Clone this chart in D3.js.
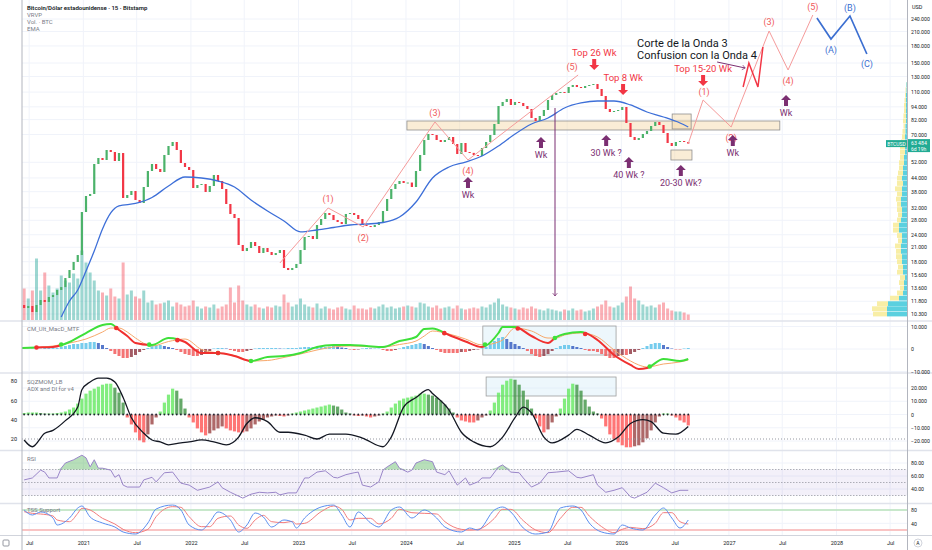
<!DOCTYPE html>
<html>
<head>
<meta charset='utf-8'>
<title>BTCUSD - Ondas</title>
<script src='https://d3js.org/d3.v7.min.js'></script>
<style>
  body { margin: 0; background: #ffffff; }
  svg { display: block; font-family: Roboto, 'Liberation Sans', sans-serif; }
</style>
</head>
<body>
<svg id='chart' width='932' height='550'></svg>
<script>

// ---- data: 2-week candles ----
var firstOpen = 11000;
var closes = [11340,10980,11220,10520,11340,11960,11710,12350,12610,13310,
  13730,15120,16470,17950,19330,30590,36290,37080,51060,54440,
  53290,59290,58040,52720,57420,35530,36680,38280,34780,33680,
  39950,47390,51060,48410,46880,56210,61880,64580,59290,51610,
  49450,47900,39520,40810,41250,37880,40380,45400,42590,39110,
  33320,29950,28690,21510,20170,20830,22210,21280,19750,20830,
  19960,19330,19750,20390,16830,16470,16830,17570,20390,23430,
  23680,22930,26630,28390,30270,29630,28090,27490,26910,29950,
  30270,29630,28390,26630,26340,26060,26630,27490,30920,35150,
  39110,41250,42590,41690,41900,39950,47390,56210,65970,70330,
  69580,65970,64580,65970,68110,63210,56810,63890,58040,57500,
  56210,55610,60570,64580,69580,78260,94840,98980,102200,95860,
  98980,97930,94840,91850,83430,80810,85230,90870,101100,106640,
  108940,110110,108940,116140,118650,116140,114910,117390,118650,119920,
  113700,105510,91850,88950,89910,90870,93830,79100,68110,65970,
  67390,70330,72620,76600,79950,77430,71090,63890,61880,64580,
  65270,64580,63484];

// volume, thousand BTC
var volumes = [28,32,22,30,62,30,48,35,28,32, 45,40,38,47,42,70,58,48,40,30,
  28,25,32,24,22,58,26,30,24,22, 30,18,20,16,17,18,20,14,18,16,
  14,15,20,14,12,14,13,16,12,14, 16,33,18,35,20,16,14,16,13,12,
  14,13,15,14,26,18,14,16,22,16, 14,13,17,12,14,12,11,13,14,12,
  11,15,12,12,11,13,12,14,16,13, 14,12,13,14,15,14,13,18,17,14,
  13,15,12,13,14,12,15,12,11,12, 13,12,14,13,16,18,22,16,14,13,
  12,11,13,12,14,12,11,10,12,11, 10,9,11,10,12,10,11,9,10,12,
  14,16,20,14,13,15,18,24,34,22, 20,16,14,15,13,16,18,12,10,9,
  9,8,6];

var emaIdx = [10,12,14,16,18,20,22,24,28,32,36,40,44,48,52,56,60,64,68,72,76,80,84,88,92,96,100,104,108,112,116,120,124,128,132,136,140,144,148,152,156,160,162];
var emaVal = [9970,11830,13310,16300,20170,25520,30270,32620,33510,35720,40380,44450,43970,42590,39950,34780,30920,27790,24720,25250,25930,26630,26910,27350,29000,34040,43970,49450,52160,55610,61880,70330,78260,83430,92830,97930,100040,100040,95860,88950,84330,79100,75790];

var macdHist = [220,220,220,220,220,220,440,440,440,440,
  890,1330,1780,2220,2220,2660,2660,3110,3110,2660,
  1780,440,-890,-2220,-3110,-4000,-4000,-3550,-2660,-1330,
  -440,440,1330,1780,1780,1330,890,440,-440,-1330,
  -2220,-2660,-3110,-3110,-2660,-1780,-890,220,440,440,
  220,-440,-890,-1330,-1330,-890,-440,220,440,440,
  440,440,440,220,220,440,440,440,670,890,
  890,890,890,890,890,1110,1330,1110,670,440,
  -220,-440,-220,220,440,220,220,220,-440,-890,
  -890,-440,220,890,1330,1780,2220,2660,2220,1330,
  440,-440,-1330,-1780,-1780,-1780,-1780,-1330,-1330,-890,
  -440,-220,220,890,2220,3550,4880,5330,4440,3110,
  2220,1330,440,-890,-2220,-3110,-3550,-3110,-2220,-890,
  440,1330,1780,1780,1330,890,440,-440,-890,-890,
  -1330,-2220,-3110,-4000,-4000,-3110,-2660,-2660,-2220,-1330,
  -440,440,1330,2220,2660,2660,1780,890,220,-220,
  -220,220,440];
var macdIdx = [0,4,8,12,16,20,22,24,26,28,32,36,40,44,48,52,56,60,64,68,72,76,80,84,88,92,96,98,100,104,108,112,116,117,120,124,128,130,132,136,140,144,148,150,152,156,160,162];
var macdVal = [440,670,890,3110,7100,10660,11100,8440,5770,2660,1780,4880,3110,-1780,-1780,-3110,-5330,-3550,-3110,-1780,890,1780,1780,1330,890,3550,5330,8880,9100,6220,3330,890,7100,9770,9770,5770,2660,5330,6660,7550,4000,-2660,-7100,-8880,-8440,-4440,-5330,-4440];
var signalVal = [440,670,1330,2660,4440,7550,9320,9320,7550,4880,1330,3330,4440,-220,-1780,-2880,-5330,-5110,-3770,-2220,-440,890,1330,1110,890,2000,3550,5770,7990,6660,4440,1780,3110,4000,9320,7990,4880,4880,6220,7100,5330,-440,-5330,-7100,-8000,-6660,-5770,-4880];

var sqzMom = [750,1130,1500,1500,1500,1130,750,750,750,1130,
  1500,2250,3750,5250,8250,12000,15750,18000,19500,21000,
  22500,23250,23250,20250,16500,9000,-2250,-7500,-13500,-19500,
  -21000,-15000,-7500,-2250,2250,9000,15000,19500,18000,12000,
  4500,-2250,-6000,-10500,-13500,-15750,-14250,-12000,-10500,-9000,
  -10500,-12000,-12750,-13500,-13500,-12750,-10500,-7500,-5250,-3750,
  -2250,-1500,-750,-1130,-1500,-750,750,1500,2250,3000,
  3750,4500,5250,6000,6750,7500,6750,6000,3750,1500,
  750,-750,-1130,-750,-1500,-2250,-1500,-750,750,2250,
  5250,8250,10500,12000,12750,13500,14250,15750,15750,15000,
  14250,12750,10500,7500,4500,1500,-2250,-4500,-5250,-6000,
  -6000,-4500,-2250,-750,3000,9000,16500,22500,25500,27000,
  26250,22500,18000,11250,4500,-3000,-9000,-13500,-11250,-6000,
  -1500,4500,12000,19500,23250,22500,18000,11250,6000,2250,
  750,-3000,-9000,-15000,-18750,-21000,-23250,-24750,-24750,-24000,
  -23250,-21000,-18000,-12000,-6000,-1500,750,750,-750,-2250,
  -4500,-6000,-8250];

var adxIdx = [1,3,6,8,11,14,15,17,19,21,23,25,27,30,32,34,36,39,41,44,47,50,53,55,57,60,63,65,69,72,75,79,83,88,90,93,96,99,100,104,107,110,114,117,120,122,124,127,129,133,135,138,142,145,148,151,153,156,159,162];
var adxVal = [19,12,26,29,39,53,71,79,83,83,79,63,42,26,19,17,14,16,17,19,17,14,22,36,42,38,27,27,24,20,25,25,21,12,22,53,63,71,67,50,27,17,12,22,42,53,47,22,16,24,30,24,16,22,36,40,38,26,25,33];

var rsiIdx = [1,3,5,6,7,9,10,11,13,15,16,17,18,19,20,22,23,24,25,26,29,30,32,33,35,37,39,41,43,46,48,49,51,54,56,58,60,62,63,65,67,69,70,72,74,76,77,79,81,82,83,85,87,88,89,91,92,94,95,96,98,100,101,103,104,106,108,109,111,112,114,116,117,119,121,122,124,126,128,130,133,135,136,139,140,142,144,146,148,149,152,154,156,158,160,162];
var rsiVal = [54,57,69,66,57,57,72,80,85,92,88,74,85,72,72,69,58,62,46,43,43,54,58,51,65,66,49,46,38,43,51,42,35,26,32,35,34,35,31,34,34,57,57,66,68,58,57,62,65,66,46,43,51,69,74,82,72,66,69,80,85,82,66,62,68,46,57,46,51,57,57,74,77,66,65,57,43,49,65,66,68,58,57,62,46,35,38,42,28,26,35,49,42,34,38,38];

var stochIdx = [1,3,5,8,9,12,14,15,17,20,23,25,28,31,33,37,39,41,44,46,48,51,53,55,57,59,61,64,66,67,69,73,76,78,80,82,85,87,90,92,95,98,101,103,107,109,111,115,117,119,122,125,128,131,134,136,138,141,144,146,148,151,154,156,158,160,162];
var stochK = [80,65,74,56,35,56,86,92,59,41,29,14,8,41,83,95,80,35,20,44,74,50,14,35,71,59,29,50,44,26,56,89,95,65,29,74,41,29,80,89,56,80,56,29,14,26,20,80,89,74,26,8,14,86,92,80,41,14,8,35,26,20,65,86,56,26,50];
var stochD = [75,70,68,62,50,45,70,85,80,55,38,22,12,22,60,90,88,60,30,30,55,62,35,25,50,64,45,42,46,38,40,75,92,82,50,55,55,38,55,82,72,70,68,45,22,20,22,55,82,82,48,20,12,55,88,88,62,30,12,22,28,24,40,72,72,45,38];

// volume profile rows (price, up volume, down volume)
var profilePrice = [10300,10900,11500,12200,12900,13600,14400,15200,16100,17000,18000,19000,20100,21300,22500,23800,25200,26600,28100,29700,31400,33200,35100,37100,39200,41500,43900,46400,49000,51800,54800,57900,61200,64700,68400,72300,76400,80800,85400,90300,95400,100900,106600,112700,119100];
var profileUp = [20,20,19,8,4,3,3,2,4,4,5,5,6,6,5,5,8,8,6,5,5,6,6,5,5,4,5,4,4,3,3,2,2,2,2,1.5,1.5,1,1,1,1,1,1,0.5,0.5];
var profileDown = [14,15,11,9,6,4,5,5,6,5,5,6,5,6,4,5,6,6,4,4,5,4,5,5,7,6,5,5,4,5,4,5,5,4,3,3,2,3,2.5,2,2,1.5,1,1,0.5];

// axis ticks
var priceTicks = [240000,210000,180000,150000,130000,110000,94000,82000,70000,52000,44000,38000,32000,28000,24000,21000,18000,15600,13600,11800,10300];
var macdTicks = [10000,0,-10000];
var sqzTicks = [20000,10000,0,-10000,-20000];
var adxTicks = [80,60,40,20];
var rsiTicks = [80,60,40];
var stochTicks = [80,40];
var lastPrice = 63484, countdown = '6d 19h';

// drawings (candle index, price)
var waveIdx = [63,74.7,83.2,100.6,108.6,135.3];
var wavePrice = [17750,31930,26070,79950,53290,132060];
var projIdx = [162,165.6,172.4,181.6,186.2,192.2];
var projPrice = [63484,101110,75790,211140,139300,250460];
var abcIdx = [193.2,196.6,201.2,205.3];
var abcPrice = [242580,193900,247800,165140];
var zigIdx = [175.3,176.7,178.9,180.1];
var zigPrice = [116140,150050,116140,178020];
var waveNames = ['', '(1)', '(2)', '(3)', '(4)', '(5)'];
var abcNames = ['', '(A)', '(B)', '(C)'];
var zones = [[93.8,184.2,73400,80810],[158.1,162.7,74190,87070],[157.8,162.9,53290,59290]];
var upMarks = [[108.6,44450,'Wk'],[126.3,68110,'Wk'],[142.1,69590,'30 Wk ?'],[147.6,55020,'40 Wk ?'],[160.2,50520,'20-30 Wk?'],[172.8,69590,'Wk'],[185.7,106640,'Wk']];
var topMarks = [[139.2,139300,'Top 26 Wk'],[146.2,106640,'Top 8 Wk'],[165.6,117390,'Top 15-20 Wk']];
var noteIdx = 149.6, notePrice = [178020,156600];
var noteLines = ['Corte de la Onda 3', 'Confusion con la Onda 4'];
var noteArrow = [[169.0,151660],[175.8,142250]];
var dropArrow = [[129.7,92830],[129.7,12480]];
var macdBox = [112.2,144.5,10220,-2670];
var sqzBox = [113,144.5,28300,13960];

// ---- layout ----
var L = 22, R = 907;
var svg = d3.select('#chart');
var x = d3.scaleLinear().domain([0, 162]).range([20, 688.25]);
var t0 = new Date(2020, 4, 31);
var xt = d3.scaleTime().domain([t0, d3.timeDay.offset(t0, 162 * 14)]).range([20, 688.25]);
var yP = d3.scaleLog().domain([10300, 240000]).range([314, 19]);
var yV = d3.scaleLinear().domain([0, 100]).range([320.5, 220.5]);
var yM = d3.scaleLinear().domain([-10000, 10000]).range([371.5, 326.5]);
var yS = d3.scaleLinear().domain([-20000, 20000]).range([441, 388]);
var yA = d3.scaleLinear().domain([20, 80]).range([439, 381]);
var yR = d3.scaleLinear().domain([40, 80]).range([489, 463]);
var yK = d3.scaleLinear().domain([20, 80]).range([530, 510]);

var loc = d3.formatLocale({decimal: ',', thousands: '.', grouping: [3], currency: ['', ''], minus: '\u2212'});
var fK = loc.format(',');

var defs = svg.append('defs');
function clip(id, x0, y0, x1, y1) {
  defs.append('clipPath').attr('id', id).append('rect')
    .attr('x', x0).attr('y', y0).attr('width', x1 - x0).attr('height', y1 - y0);
}
clip('cMain', L, 0, R, 320);
clip('cMacd', L, 322, R, 372);
clip('cSqz', L, 374, R, 450);
clip('cRsi', L, 451, R, 503);
clip('cSto', L, 504, R, 535);

var purple = '#7b2f72', red = '#f23645';

// grid
var monthTicks = d3.timeMonth.every(6).range(xt.invert(L), xt.invert(R));
svg.append('g').selectAll('line').data(monthTicks).join('line')
  .attr('x1', d => xt(d)).attr('x2', d => xt(d)).attr('y1', 0).attr('y2', 535)
  .attr('stroke', '#f0f3fa');
function hgrid(scale, ticks, clipId) {
  svg.append('g').attr('clip-path', 'url(#' + clipId + ')').selectAll('line').data(ticks).join('line')
    .attr('x1', L).attr('x2', R).attr('y1', d => scale(d)).attr('y2', d => scale(d))
    .attr('stroke', '#f0f3fa');
}
hgrid(yP, priceTicks, 'cMain');
hgrid(yM, macdTicks, 'cMacd');
hgrid(yS, sqzTicks, 'cSqz');
hgrid(yR, rsiTicks, 'cRsi');
hgrid(yK, stochTicks, 'cSto');

// ---- main pane ----
var main = svg.append('g').attr('clip-path', 'url(#cMain)');
var opens = closes.map((c, i) => i ? closes[i - 1] : firstOpen);

main.append('g').selectAll('rect').data(volumes).join('rect')
  .attr('x', (d, i) => x(i) - 1.5).attr('width', 3)
  .attr('y', d => yV(d)).attr('height', d => yV(0) - yV(d))
  .attr('fill', (d, i) => closes[i] >= opens[i] ? 'rgba(38,166,154,0.45)' : 'rgba(242,54,69,0.4)');

// volume profile
var pw = d3.scaleLinear().domain([0, 40]).range([0, 40]);
var prof = main.append('g');
profilePrice.forEach(function (p, k) {
  var yc = yP(p);
  prof.append('rect').attr('x', R - pw(profileUp[k] + profileDown[k])).attr('y', yc - 2.4)
    .attr('width', pw(profileDown[k])).attr('height', 4.8).attr('fill', '#f8eea6');
  prof.append('rect').attr('x', R - pw(profileUp[k])).attr('y', yc - 2.4)
    .attr('width', pw(profileUp[k])).attr('height', 4.8).attr('fill', '#5bd0df');
});

// zones
main.append('g').selectAll('rect').data(zones).join('rect')
  .attr('x', d => x(d[0])).attr('width', d => x(d[1]) - x(d[0]))
  .attr('y', d => yP(d[3])).attr('height', d => yP(d[2]) - yP(d[3]))
  .attr('fill', 'rgba(245,215,165,0.45)').attr('stroke', '#8f8f8f').attr('stroke-width', 0.8);

// candles
main.append('g').selectAll('rect').data(closes).join('rect')
  .attr('x', (d, i) => x(i) - 1.1).attr('width', 2.2)
  .attr('y', (d, i) => yP(Math.max(d, opens[i])))
  .attr('height', (d, i) => Math.max(1, Math.abs(yP(opens[i]) - yP(d))))
  .attr('fill', (d, i) => d >= opens[i] ? '#4bb26a' : red);

// EMA
main.append('path').datum(emaIdx.map((i, k) => [i, emaVal[k]]))
  .attr('fill', 'none').attr('stroke', '#3d6fd8').attr('stroke-width', 1.3)
  .attr('d', d3.line().x(d => x(d[0])).y(d => yP(d[1])).curve(d3.curveMonotoneX));

// elliott drawings
var pl = d3.line().x(d => x(d[0])).y(d => yP(d[1]));
main.append('path').datum(waveIdx.map((i, k) => [i, wavePrice[k]]))
  .attr('fill', 'none').attr('stroke', '#f59b9b').attr('stroke-width', 1).attr('d', pl);
main.append('path').datum(projIdx.map((i, k) => [i, projPrice[k]]))
  .attr('fill', 'none').attr('stroke', '#f59b9b').attr('stroke-width', 1).attr('d', pl);
main.append('path').datum(zigIdx.map((i, k) => [i, zigPrice[k]]))
  .attr('fill', 'none').attr('stroke', red).attr('stroke-width', 1.5).attr('d', pl);
main.append('path').datum(abcIdx.map((i, k) => [i, abcPrice[k]]))
  .attr('fill', 'none').attr('stroke', '#3c6fd1').attr('stroke-width', 1.7).attr('d', pl);

var waveDx = [0, 0, 0, 0, 0, -6], waveDy = [0, -6, 14, -6, 14, -5];
var projDy = [0, -5, 14, -6, 14, -5], abcDy = [0, 14, -5, 13];
function labels(idx, price, names, dx, dy, color) {
  main.append('g').selectAll('text').data(names).join('text')
    .attr('x', (d, k) => x(idx[k]) + dx[k]).attr('y', (d, k) => yP(price[k]) + dy[k])
    .attr('text-anchor', 'middle').attr('font-size', 9).attr('fill', color).text(d => d);
}
labels(waveIdx, wavePrice, waveNames, waveDx, waveDy, '#f0595a');
labels(projIdx, projPrice, waveNames, [0, 1, 0, 0, 0, 0], projDy, '#f0595a');
labels(abcIdx, abcPrice, abcNames, [0, 0, 0, 0], abcDy, '#3c6fd1');

// note text + arrow
main.append('g').selectAll('text').data(noteLines).join('text')
  .attr('x', x(noteIdx)).attr('y', (d, k) => yP(notePrice[k]))
  .attr('font-size', 11).attr('fill', '#131722').text(d => d);
defs.append('marker').attr('id', 'ah').attr('viewBox', '-6 -6 12 12').attr('refX', 0).attr('refY', 0)
  .attr('markerWidth', 7).attr('markerHeight', 7).attr('orient', 'auto')
  .append('path').attr('d', 'M-5,-4 L0,0 L-5,4').attr('fill', 'none').attr('stroke', purple).attr('stroke-width', 1.2);
main.append('path').datum(noteArrow).attr('d', pl).attr('stroke', purple).attr('stroke-width', 1)
  .attr('marker-end', 'url(#ah)');
main.append('path').datum(dropArrow).attr('d', pl).attr('stroke', purple).attr('stroke-width', 1)
  .attr('marker-end', 'url(#ah)');

// arrows
var upGlyph = 'M0,0 L5,5 L2,5 L2,11 L-2,11 L-2,5 L-5,5 Z';
var downGlyph = 'M0,0 L5,-5 L2,-5 L2,-11 L-2,-11 L-2,-5 L-5,-5 Z';
var um = main.append('g').selectAll('g').data(upMarks).join('g')
  .attr('transform', d => 'translate(' + x(d[0]) + ',' + yP(d[1]) + ')');
um.append('path').attr('d', upGlyph).attr('fill', purple);
um.append('text').attr('y', 21).attr('text-anchor', 'middle').attr('font-size', 9).attr('fill', purple).text(d => d[2]);
var tm = main.append('g').selectAll('g').data(topMarks).join('g')
  .attr('transform', d => 'translate(' + x(d[0]) + ',' + yP(d[1]) + ')');
tm.append('path').attr('d', downGlyph).attr('fill', red);
tm.append('text').attr('y', -14).attr('text-anchor', 'middle').attr('font-size', 9.5).attr('fill', red).text(d => d[2]);

// ---- MACD pane ----
var macd = svg.append('g').attr('clip-path', 'url(#cMacd)');
macd.append('rect').attr('x', x(macdBox[0])).attr('width', x(macdBox[1]) - x(macdBox[0]))
  .attr('y', yM(macdBox[2])).attr('height', yM(macdBox[3]) - yM(macdBox[2]))
  .attr('fill', 'rgba(210,235,248,0.4)').attr('stroke', '#9e9e9e').attr('stroke-width', 0.8);
macd.append('g').selectAll('rect').data(macdHist).join('rect')
  .attr('x', (d, i) => x(i) - 1.5).attr('width', 3)
  .attr('y', d => Math.min(yM(d), yM(0))).attr('height', d => Math.abs(yM(d) - yM(0)))
  .attr('fill', function (d, i) {
    var p = i ? macdHist[i - 1] : d;
    if (d >= 0) return d >= p ? '#5ec3ea' : '#3a62c2';
    return d <= p ? '#f25c5c' : '#93404a';
  }).attr('opacity', 0.85);
var ml = d3.line().x(d => x(d[0])).y(d => yM(d[1])).curve(d3.curveMonotoneX);
macd.append('path').datum(macdIdx.map((i, k) => [i, signalVal[k]]))
  .attr('fill', 'none').attr('stroke', '#f7a86b').attr('stroke-width', 1).attr('d', ml);
// colour the MACD line by its position vs signal
var segs = [], crosses = [];
var cur = {x0: x(macdIdx[0]), up: macdVal[0] >= signalVal[0]};
for (var k = 1; k < macdIdx.length; k++) {
  var up = macdVal[k] >= signalVal[k];
  if (up !== cur.up) {
    var da = macdVal[k - 1] - signalVal[k - 1], db = macdVal[k] - signalVal[k];
    var f = da / (da - db);
    var ci = macdIdx[k - 1] + f * (macdIdx[k] - macdIdx[k - 1]);
    var cv = macdVal[k - 1] + f * (macdVal[k] - macdVal[k - 1]);
    cur.x1 = x(ci); segs.push(cur);
    crosses.push([ci, cv, up]);
    cur = {x0: x(ci), up: up};
  }
}
cur.x1 = x(macdIdx[macdIdx.length - 1]) + 2; segs.push(cur);
var macdPts = macdIdx.map((i, k) => [i, macdVal[k]]);
segs.forEach(function (s, n) {
  defs.append('clipPath').attr('id', 'ms' + n).append('rect')
    .attr('x', s.x0).attr('width', s.x1 - s.x0 + 0.3).attr('y', 322).attr('height', 50);
  macd.append('path').datum(macdPts).attr('clip-path', 'url(#ms' + n + ')')
    .attr('fill', 'none').attr('stroke', s.up ? '#3ee03a' : '#f0302f').attr('stroke-width', 2).attr('d', ml);
});
macd.append('g').selectAll('circle').data(crosses).join('circle')
  .attr('cx', d => x(d[0])).attr('cy', d => yM(d[1])).attr('r', 2.3)
  .attr('fill', d => d[2] ? '#3ee03a' : '#f0302f');

// ---- squeeze momentum + ADX ----
var sq = svg.append('g').attr('clip-path', 'url(#cSqz)');
sq.append('rect').attr('x', x(sqzBox[0])).attr('width', x(sqzBox[1]) - x(sqzBox[0]))
  .attr('y', yS(sqzBox[2])).attr('height', yS(sqzBox[3]) - yS(sqzBox[2]))
  .attr('fill', 'rgba(210,235,248,0.4)').attr('stroke', '#9e9e9e').attr('stroke-width', 0.8);
sq.append('g').selectAll('rect').data(sqzMom).join('rect')
  .attr('x', (d, i) => x(i) - 1.6).attr('width', 3.2)
  .attr('y', d => Math.min(yS(d), yS(0))).attr('height', d => Math.abs(yS(d) - yS(0)))
  .attr('fill', function (d, i) {
    var p = i ? sqzMom[i - 1] : d;
    if (d >= 0) return d >= p ? '#63e85f' : '#3f9443';
    return d <= p ? '#ff5252' : '#9a4242';
  }).attr('opacity', 0.8);
sq.append('line').attr('x1', L).attr('x2', R).attr('y1', yA(20)).attr('y2', yA(20))
  .attr('stroke', '#9598a1').attr('stroke-dasharray', '1,2');
sq.append('g').selectAll('circle').data(sqzMom).join('circle')
  .attr('cx', (d, i) => x(i)).attr('cy', yS(0)).attr('r', 0.9).attr('fill', '#1e222d');
sq.append('path').datum(adxIdx.map((i, k) => [i, adxVal[k]]))
  .attr('fill', 'none').attr('stroke', '#131722').attr('stroke-width', 1.3)
  .attr('d', d3.line().x(d => x(d[0])).y(d => yA(d[1])).curve(d3.curveMonotoneX));

// ---- RSI ----
var rs = svg.append('g').attr('clip-path', 'url(#cRsi)');
rs.append('rect').attr('x', L).attr('width', R - L).attr('y', yR(70)).attr('height', yR(30) - yR(70))
  .attr('fill', 'rgba(126,87,194,0.09)');
[70, 50, 30].forEach(function (v) {
  rs.append('line').attr('x1', L).attr('x2', R).attr('y1', yR(v)).attr('y2', yR(v))
    .attr('stroke', '#9a9ca6').attr('stroke-dasharray', '1.5,1.5').attr('stroke-width', 0.8);
});
var rsiPts = rsiIdx.map((i, k) => [i, rsiVal[k]]);
rs.append('path').datum(rsiPts).attr('fill', 'rgba(76,175,80,0.4)')
  .attr('d', d3.area().x(d => x(d[0])).y0(yR(70)).y1(d => yR(Math.max(d[1], 70))));
rs.append('path').datum(rsiPts).attr('fill', 'none').attr('stroke', '#9a86c9').attr('stroke-width', 1)
  .attr('d', d3.line().x(d => x(d[0])).y(d => yR(d[1])));

// ---- stochastic ----
var st = svg.append('g').attr('clip-path', 'url(#cSto)');
st.append('line').attr('x1', L).attr('x2', R).attr('y1', yK(80)).attr('y2', yK(80))
  .attr('stroke', '#b9e2bb').attr('stroke-width', 1.6);
st.append('line').attr('x1', L).attr('x2', R).attr('y1', yK(20)).attr('y2', yK(20))
  .attr('stroke', '#f9c4c4').attr('stroke-width', 2);
var kl = d3.line().x(d => x(d[0])).y(d => yK(d[1])).curve(d3.curveMonotoneX);
st.append('path').datum(stochIdx.map((i, k) => [i, stochD[k]]))
  .attr('fill', 'none').attr('stroke', '#f27c7c').attr('stroke-width', 1).attr('d', kl);
st.append('path').datum(stochIdx.map((i, k) => [i, stochK[k]]))
  .attr('fill', 'none').attr('stroke', '#5a8ef0').attr('stroke-width', 1).attr('d', kl);

// ---- separators and borders ----
[321, 373, 450.5, 503.5].forEach(function (y) {
  svg.append('line').attr('x1', 0).attr('x2', 932).attr('y1', y).attr('y2', y)
    .attr('stroke', '#e0e3eb').attr('stroke-width', 1.5);
});
svg.append('line').attr('x1', 0).attr('x2', 932).attr('y1', 535.5).attr('y2', 535.5)
  .attr('stroke', '#d1d4dc').attr('stroke-width', 1);
svg.append('line').attr('x1', L).attr('x2', L).attr('y1', 0).attr('y2', 550)
  .attr('stroke', '#b2b5be').attr('stroke-width', 1);
svg.append('line').attr('x1', R + 0.5).attr('x2', R + 0.5).attr('y1', 0).attr('y2', 550)
  .attr('stroke', '#b2b5be').attr('stroke-width', 1);

// ---- axes ----
function styleAxis(g, size) {
  g.select('.domain').remove();
  g.attr('font-size', size).attr('font-family', null);
  g.selectAll('text').attr('fill', '#131722');
}
function rightAxis(scale, ticks, fmt) {
  svg.append('g').attr('transform', 'translate(' + R + ',0)')
    .call(d3.axisRight(scale).tickValues(ticks).tickFormat(fmt).tickSize(0).tickPadding(4))
    .call(styleAxis, 5.2);
}
rightAxis(yP, priceTicks, fK);
rightAxis(yM, macdTicks, fK);
rightAxis(yS, sqzTicks, fK);
rightAxis(yR, rsiTicks, d3.format('.2f'));
rightAxis(yK, stochTicks, d3.format('d'));
svg.append('g').attr('transform', 'translate(' + (L - 3) + ',0)')
  .call(d3.axisLeft(yA).tickValues(adxTicks).tickSize(0).tickPadding(2))
  .call(styleAxis, 5.5);
svg.append('g').attr('transform', 'translate(0,536)')
  .call(d3.axisBottom(xt).tickValues(monthTicks).tickSize(0).tickPadding(5)
    .tickFormat(d => d.getMonth() === 0 ? d3.timeFormat('%Y')(d) : 'Jul'))
  .call(styleAxis, 5.5);
svg.append('text').attr('x', 912).attr('y', 9).attr('font-size', 5.5).attr('fill', '#131722').text('USD');

// last price tag
var ly = yP(lastPrice);
svg.append('rect').attr('x', 886).attr('y', ly - 3.5).attr('width', 21).attr('height', 7).attr('fill', '#22ab94');
svg.append('text').attr('x', 896.5).attr('y', ly + 2).attr('text-anchor', 'middle').attr('font-size', 5)
  .attr('fill', '#ffffff').text('BTCUSD');
svg.append('rect').attr('x', R + 1).attr('y', ly - 4.5).attr('width', 22).attr('height', 13).attr('fill', '#22ab94');
svg.append('text').attr('x', 911).attr('y', ly + 1.8).attr('font-size', 5.2).attr('fill', '#ffffff')
  .text(d3.formatLocale({decimal: ',', thousands: ' ', grouping: [3], currency: ['', '']}).format(',')(lastPrice));
svg.append('text').attr('x', 911).attr('y', ly + 7.5).attr('font-size', 5).attr('fill', '#ffffff').text(countdown);

// legends
var legend = [
  ['Bitcoin/D\u00f3lar estadounidense \u00b7 15 \u00b7 Bitstamp', 10, '#131722', 600],
  ['VRVP', 17, '#787b86', 400], ['Vol. \u00b7 BTC', 24, '#787b86', 400], ['EMA', 31, '#787b86', 400],
  ['CM_Ult_MacD_MTF', 331, '#787b86', 400], ['SQZMOM_LB', 384, '#787b86', 400],
  ['ADX and DI for v4', 391, '#787b86', 400], ['RSI', 461, '#787b86', 400], ['TSS Support', 512, '#787b86', 400]
];
svg.append('g').selectAll('text').data(legend).join('text')
  .attr('x', 27).attr('y', d => d[1]).attr('font-size', 6).attr('fill', d => d[2])
  .attr('font-weight', d => d[3]).text(d => d[0]);

// corner buttons
svg.append('circle').attr('cx', 918).attr('cy', 543).attr('r', 4).attr('fill', 'none').attr('stroke', '#d1d4dc');
svg.append('text').attr('x', 918).attr('y', 545).attr('text-anchor', 'middle').attr('font-size', 5).attr('fill', '#131722').text('A');
svg.append('rect').attr('x', 3).attr('y', 540).attr('width', 6).attr('height', 6).attr('rx', 1)
  .attr('fill', 'none').attr('stroke', '#9598a1');

</script>
</body>
</html>
